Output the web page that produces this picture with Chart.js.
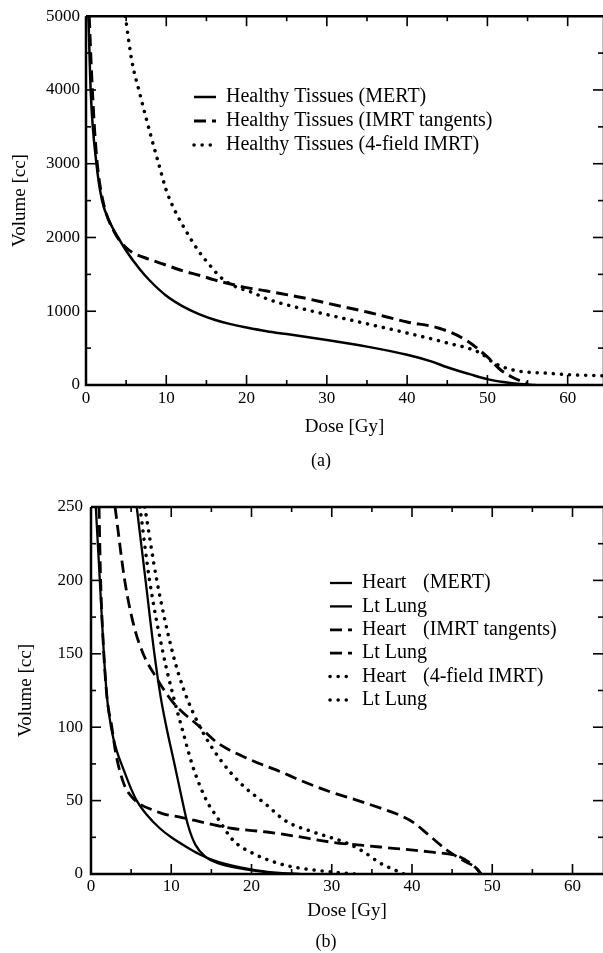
<!DOCTYPE html>
<html>
<head>
<meta charset="utf-8">
<script src="https://cdn.jsdelivr.net/npm/chart.js@4/dist/chart.umd.min.js"></script>
<style>
body { margin: 0; background: #fff; }
#boxA { position: absolute; left: 0; top: 0; width: 603px; height: 470px; }
#boxB { position: absolute; left: 0; top: 470px; width: 603px; height: 483px; }
</style>
</head>
<body>
<div id="boxA"><canvas id="chartA"></canvas></div>
<div id="boxB"><canvas id="chartB"></canvas></div>
<script>
// (a) healthy tissues
var doseA_mert = [0.3, 0.6, 1.3, 2.0, 3.0, 4.0, 5.0, 6.7, 8.0, 10, 12, 14, 16, 18, 20, 22.5, 25, 27.5, 30, 35, 40, 43, 45, 48, 50, 52, 54, 56];
var volA_mert = [5000, 3950, 3000, 2500, 2200, 2000, 1820, 1570, 1410, 1210, 1070, 965, 885, 825, 780, 730, 690, 650, 610, 520, 410, 320, 240, 140, 80, 40, 12, 0];
var doseA_tan = [0.4, 0.7, 1.1, 1.5, 2.2, 3.5, 5.0, 5.9, 8, 10, 12, 14.2, 16, 18.4, 20, 22.5, 24.2, 26.7, 30, 35, 40, 44, 47.3, 50, 51.7, 53.3, 55];
var volA_tan = [5000, 4200, 3400, 2900, 2450, 2080, 1860, 1790, 1700, 1625, 1550, 1485, 1425, 1360, 1320, 1275, 1240, 1190, 1110, 990, 855, 770, 610, 380, 200, 95, 20];
var doseA_4f = [4.9, 5.7, 6.7, 8.0, 9.1, 10.0, 11.0, 12.5, 14, 15.6, 17, 18.5, 20.8, 22.5, 24.2, 26.7, 30, 35, 40, 45, 49.2, 50.8, 53.3, 55, 57.5, 60, 64.4];
var volA_4f = [5000, 4400, 3950, 3410, 2980, 2640, 2380, 2080, 1820, 1600, 1440, 1340, 1250, 1170, 1110, 1040, 955, 830, 705, 570, 430, 300, 200, 175, 160, 140, 125];
var labelsA = ['Healthy Tissues (MERT)', 'Healthy Tissues (IMRT tangents)', 'Healthy Tissues (4-field IMRT)'];

// (b) heart and left lung
var doseB_heartMert = [0.6, 1.1, 1.6, 2.0, 2.5, 3.2, 4.0, 5.0, 5.7, 7.0, 8.6, 10, 11.9, 13.5, 15.2, 18.6, 22, 26];
var volB_heartMert = [250, 200, 150, 120, 100, 84, 72, 58, 50, 40, 31, 25, 18.4, 13.5, 9.5, 4.5, 1.5, 0];
var doseB_lungMert = [5.7, 6.8, 7.9, 8.7, 9.4, 10.4, 11.3, 12.1, 13.0, 14.2, 16.0, 18.6, 21, 24];
var volB_lungMert = [250, 200, 150, 120, 100, 75, 52, 33, 20, 12, 7, 3.8, 1.8, 0];
var doseB_heartTan = [1.0, 1.2, 1.6, 2.0, 2.6, 3.0, 3.5, 4.2, 5.0, 6.0, 7.7, 9.0, 11.1, 14.4, 17.7, 21.9, 25.2, 29.8, 36, 42.2, 46, 48, 48.6];
var volB_heartTan = [250, 200, 150, 120, 100, 85, 72, 60, 53, 48, 43.6, 41, 38.8, 34.6, 31, 28.6, 26, 21.8, 18.4, 15, 11.6, 4, 0];
var doseB_lungTan = [3.0, 4.2, 5.3, 6.5, 8.0, 10.2, 13.6, 15.7, 19.8, 23.9, 26, 29.8, 33, 36, 38.5, 40.2, 42.2, 44.3, 46.3, 48, 48.6];
var volB_lungTan = [250, 200, 170, 150, 135, 117, 100, 89.6, 78, 69, 64, 56, 50.5, 45, 40, 35, 26, 16.5, 9.5, 4, 0];
var doseB_heart4f = [6.1, 7.3, 9.0, 10.4, 11.3, 12.7, 14.4, 15.7, 17.7, 20.2, 23.5, 26, 29, 33];
var volB_heart4f = [250, 200, 150, 118, 100, 73, 50, 38.8, 23, 14, 7, 4, 2, 0];
var doseB_lung4f = [6.7, 8.2, 10.2, 11.6, 13.6, 16.1, 18.6, 21.9, 24.3, 27.7, 31.9, 34, 36, 37.3, 39];
var volB_lung4f = [250, 200, 150, 125, 100, 78, 62, 47, 36, 28.6, 21, 15, 7.5, 4, 0];
var organsB = ['Heart', 'Lt Lung', 'Heart', 'Lt Lung', 'Heart', 'Lt Lung'];
var plansB = ['(MERT)', '', '(IMRT tangents)', '', '(4-field IMRT)', ''];

var serif = "'Liberation Serif', 'Times New Roman', serif";
var DASH = [12, 6];
var DOT = [0.1, 8];

function pts(xs, ys) {
    return xs.map(function (x, i) { return { x: x, y: ys[i] }; });
}

function curve(label, xs, ys, dash, width) {
    return {
        label: label,
        data: pts(xs, ys),
        borderColor: '#000',
        borderWidth: width,
        borderDash: dash,
        borderCapStyle: dash === DOT ? 'round' : 'butt',
        pointRadius: 0,
        cubicInterpolationMode: 'monotone',
        fill: false
    };
}

function tickLine(ctx, x1, y1, x2, y2) {
    ctx.beginPath();
    ctx.moveTo(x1, y1);
    ctx.lineTo(x2, y2);
    ctx.stroke();
}

// frame with inward ticks on all four sides
var framePlugin = {
    id: 'frame',
    afterDatasetsDraw: function (chart) {
        var ctx = chart.ctx, a = chart.chartArea;
        var xs = chart.scales.x, ys = chart.scales.y;
        var xStep = xs.options.ticks.stepSize, yStep = ys.options.ticks.stepSize;
        ctx.save();
        ctx.strokeStyle = '#000';
        ctx.lineWidth = 2.5;
        ctx.beginPath();
        ctx.moveTo(a.left, a.top);
        ctx.lineTo(a.left, a.bottom);
        ctx.lineTo(a.right + 2, a.bottom);
        ctx.moveTo(a.left, a.top);
        ctx.lineTo(a.right + 2, a.top);
        ctx.moveTo(a.right + 1, a.top);
        ctx.lineTo(a.right + 1, a.bottom);
        ctx.stroke();
        ctx.lineWidth = 1.6;
        var i, v, p, len;
        for (i = 0; i * xStep / 2 <= xs.max; i++) {
            v = i * xStep / 2;
            p = xs.getPixelForValue(v);
            len = i % 2 === 0 ? 10 : 5;
            tickLine(ctx, p, a.bottom, p, a.bottom - len);
            tickLine(ctx, p, a.top, p, a.top + len);
        }
        for (i = 0; i * yStep / 2 <= ys.max; i++) {
            v = i * yStep / 2;
            p = ys.getPixelForValue(v);
            len = i % 2 === 0 ? 10 : 5;
            tickLine(ctx, a.left, p, a.left + len, p);
            tickLine(ctx, a.right, p, a.right - len, p);
        }
        ctx.restore();
    }
};

// legend inside the plot plus the (a)/(b) caption
var notesPlugin = {
    id: 'notes',
    afterDraw: function (chart, args, opts) {
        var ctx = chart.ctx;
        ctx.save();
        ctx.fillStyle = '#000';
        ctx.strokeStyle = '#000';
        ctx.font = opts.fontSize + 'px ' + serif;
        ctx.textBaseline = 'middle';
        ctx.textAlign = 'left';
        chart.data.datasets.forEach(function (ds, i) {
            var y = opts.y0 + i * opts.dy;
            ctx.lineWidth = ds.borderWidth;
            ctx.lineCap = ds.borderCapStyle;
            ctx.setLineDash(ds.borderDash);
            tickLine(ctx, opts.x0, y, opts.x1, y);
            ctx.setLineDash([]);
            ctx.fillText(opts.names[i], opts.textX, y);
            if (opts.groups && opts.groups[i]) {
                ctx.fillText(opts.groups[i], opts.groupX, y);
            }
        });
        ctx.textAlign = 'center';
        ctx.font = '18px ' + serif;
        ctx.fillText(opts.caption, opts.capX, opts.capY);
        ctx.restore();
    }
};

function axes(xMax, yMax, yStep, yWidth, xHeight, yTitlePad, yTickPad, xTickPad) {
    var tickFont = { family: serif, size: 17 };
    var titleFont = { family: serif, size: 19 };
    return {
        x: {
            type: 'linear', min: 0, max: xMax,
            border: { display: false },
            grid: { display: false, drawTicks: false },
            ticks: {
                stepSize: 10, includeBounds: false, autoSkip: false, maxRotation: 0,
                padding: xTickPad, color: '#000', font: tickFont,
                callback: function (v) { return String(v); }
            },
            title: { display: true, text: 'Dose [Gy]', color: '#000', font: titleFont, padding: { top: 0, bottom: 4 } },
            afterFit: function (s) { s.height = xHeight; }
        },
        y: {
            type: 'linear', min: 0, max: yMax,
            border: { display: false },
            grid: { display: false, drawTicks: false },
            ticks: {
                stepSize: yStep, includeBounds: false, autoSkip: false,
                padding: yTickPad, color: '#000', font: tickFont,
                callback: function (v) { return String(v); }
            },
            title: { display: true, text: 'Volume [cc]', color: '#000', font: titleFont, padding: { top: yTitlePad, bottom: 0 } },
            afterFit: function (s) { s.width = yWidth; }
        }
    };
}

function drawChartA() {
    var ctx = document.getElementById('chartA').getContext('2d');
    var myChart = new Chart(ctx, {
        type: 'line',
        data: {
            datasets: [
                curve(labelsA[0], doseA_mert, volA_mert, [], 2.5),
                curve(labelsA[1], doseA_tan, volA_tan, DASH, 3),
                curve(labelsA[2], doseA_4f, volA_4f, DOT, 3.5)
            ]
        },
        options: {
            responsive: true, maintainAspectRatio: false, animation: false,
            layout: { padding: { left: 0, right: 0, top: 16, bottom: 28 } },
            plugins: {
                legend: { display: false },
                tooltip: { enabled: false },
                notes: {
                    x0: 194, x1: 216, textX: 226, y0: 97, dy: 24, fontSize: 20,
                    names: labelsA, caption: '(a)', capX: 321, capY: 461
                }
            },
            scales: axes(64.4, 5000, 1000, 86, 57, 9, 6, 3)
        },
        plugins: [framePlugin, notesPlugin]
    });
}

function drawChartB() {
    var ctx = document.getElementById('chartB').getContext('2d');
    var labelsB = organsB.map(function (o, i) { return (o + ' ' + plansB[i]).trim(); });
    var myChart = new Chart(ctx, {
        type: 'line',
        data: {
            datasets: [
                curve(labelsB[0], doseB_heartMert, volB_heartMert, [], 2.3),
                curve(labelsB[1], doseB_lungMert, volB_lungMert, [], 2.3),
                curve(labelsB[2], doseB_heartTan, volB_heartTan, DASH, 2.8),
                curve(labelsB[3], doseB_lungTan, volB_lungTan, DASH, 2.8),
                curve(labelsB[4], doseB_heart4f, volB_heart4f, DOT, 3.5),
                curve(labelsB[5], doseB_lung4f, volB_lung4f, DOT, 3.5)
            ]
        },
        options: {
            responsive: true, maintainAspectRatio: false, animation: false,
            layout: { padding: { left: 0, right: 0, top: 37, bottom: 27 } },
            plugins: {
                legend: { display: false },
                tooltip: { enabled: false },
                notes: {
                    x0: 330, x1: 352, textX: 362, groupX: 423, y0: 113, dy: 23.4, fontSize: 20,
                    names: organsB, groups: plansB, caption: '(b)', capX: 326, capY: 472
                }
            },
            scales: axes(63.8, 250, 50, 91, 52, 15, 8, 2)
        },
        plugins: [framePlugin, notesPlugin]
    });
}

drawChartA();
drawChartB();
</script>
</body>
</html>
